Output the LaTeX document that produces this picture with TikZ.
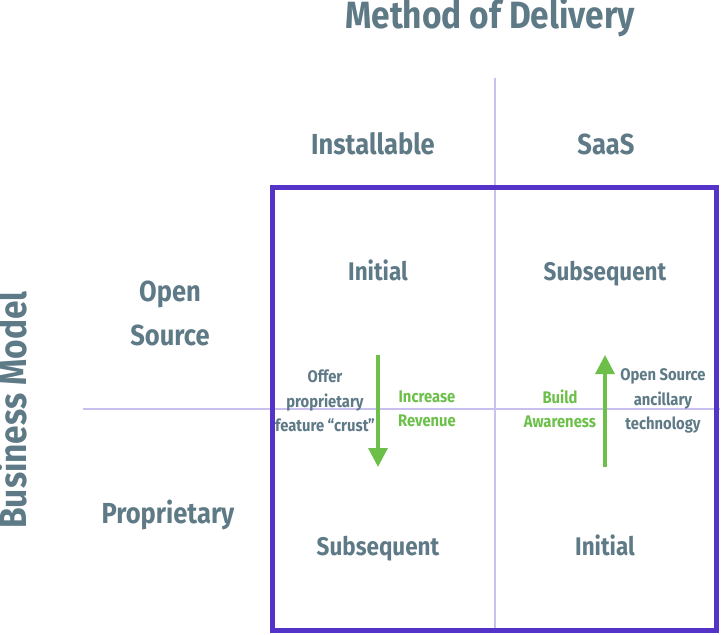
\documentclass[tikz,border=0pt]{standalone}
\usepackage{fontspec}
\setmainfont{Fira Sans}[UprightFont=* Bold, FakeStretch=0.88]
\usetikzlibrary{arrows.meta}
\definecolor{txt}{HTML}{5F7A87}
\definecolor{boxc}{HTML}{5433C8}
\definecolor{gridc}{HTML}{C9C0F0}
\definecolor{grn}{HTML}{6CC04A}
\tikzset{
  title/.style={text=txt, font=\fontsize{38}{40}\selectfont, inner sep=0pt, anchor=base},
  head/.style={text=txt, font=\fontsize{29}{32}\selectfont, inner sep=0pt, anchor=base},
  cell/.style={text=txt, font=\fontsize{25.5}{28}\selectfont, inner sep=0pt, anchor=base},
  note/.style={text=txt, font=\fontsize{16.8}{24.5}\selectfont, inner sep=0pt, align=center},
  gnote/.style={note, text=grn},
  gridline/.style={draw=gridc, line width=1.2pt},
  garrow/.style={draw=grn, line width=3.2pt, -{Triangle[length=19pt,width=19pt]}},
}
\begin{document}
\begin{tikzpicture}[x=1pt,y=-1pt]
\useasboundingbox (0,0) rectangle (721,635);
\coordinate (vtop) at (495,78);
\coordinate (vbot) at (495,630);
\coordinate (hl) at (83,409);
\coordinate (hr) at (720,409);
\draw[gridline] (vtop) -- (vbot);
\draw[gridline] (hl) -- (hr);
\draw[draw=boxc, line width=5pt] (272.5,187.5) rectangle (716.5,630.5);
\node[title] (t) at (490,28) {Method of Delivery};
\node[title, rotate=90] (bm) at (27,410) {Business Model};
\node[head] (inst) at (373,154) {Installable};
\node[head] (saas) at (606,154) {SaaS};
\node[head] (open) at (170,301) {Open};
\node[head] (src) at (170,345) {Source};
\node[head] (prop) at (168,523) {Proprietary};
\node[cell] (c11) at (378,280) {Initial};
\node[cell] (c12) at (605,280) {Subsequent};
\node[cell] (c21) at (378,555) {Subsequent};
\node[cell] (c22) at (605,555) {Initial};
\coordinate (a1s) at (378,355);
\coordinate (a1e) at (378,467);
\coordinate (a2s) at (605,467);
\coordinate (a2e) at (605,355);
\draw[garrow] (a1s) -- (a1e);
\draw[garrow] (a2s) -- (a2e);
\node[note] (offer) at (325,401) {Offer\\proprietary\\feature “crust”};
\node[gnote] (inc) at (427,409) {Increase\\Revenue};
\node[gnote] (bld) at (560,409) {Build\\Awareness};
\node[note] (oss) at (663,401) {Open Source\\ancillary\\technology};
\end{tikzpicture}
\end{document}
